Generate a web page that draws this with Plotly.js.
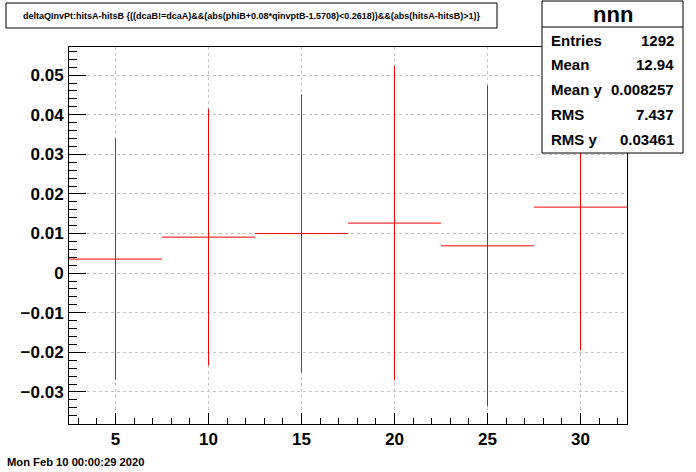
<!DOCTYPE html>
<html>
<head>
<meta charset="utf-8">
<script src="https://cdn.plot.ly/plotly-3.0.1.min.js"></script>
<style>
  html, body { margin: 0; padding: 0; background: #fff; }
  #chart { width: 696px; height: 472px; }
</style>
</head>
<body>
<div id="chart"></div>
<script>
// ---- data ----
const binCenters = [5, 10, 15, 20, 25, 30];
const binHalfWidths = [2.5, 2.5, 2.5, 2.5, 2.5, 2.5];
const meanValues = [0.00354, 0.00909, 0.0100, 0.01263, 0.00689, 0.01667];
const meanErrors = [0.0305, 0.0324, 0.0351, 0.0397, 0.0405, 0.0362];

const titleText = "deltaQInvPt:hitsA-hitsB {((dcaB!=dcaA)&&(abs(phiB+0.08*qinvptB-1.5708)<0.2618))&&(abs(hitsA-hitsB)>1)}";
const statsTitle = "nnn";
const statsLabels = ["Entries", "Mean", "Mean y", "RMS", "RMS y"];
const statsValues = ["1292", "12.94", "0.008257", "7.437", "0.03461"];
const dateText = "Mon Feb 10 00:00:29 2020";

// ---- layout helpers (pixel -> paper) ----
const W = 696, H = 472;
const L = 69, R = 627, T = 47, B = 424;
const px = x => (x - L) / (R - L);
const py = y => (B - y) / (B - T);

const FONT = "Liberation Sans, Arial, Helvetica, sans-serif";

const trace = {
  type: "scatter",
  mode: "markers",
  x: binCenters,
  y: meanValues,
  marker: { size: 0, color: "red", opacity: 0 },
  error_x: { type: "data", array: binHalfWidths, symmetric: true, color: "#ff0000", thickness: 1, width: 0 },
  error_y: { type: "data", array: meanErrors, symmetric: true, color: "#ff0000", thickness: 1, width: 0 },
  hoverinfo: "skip",
  showlegend: false
};

const shapes = [
  // title box
  { type: "rect", xref: "paper", yref: "paper", x0: px(6), x1: px(497), y0: py(28), y1: py(3),
    line: { color: "black", width: 1 }, fillcolor: "white", layer: "above" },
  // stats box
  { type: "rect", xref: "paper", yref: "paper", x0: px(542), x1: px(683), y0: py(153), y1: py(1),
    line: { color: "black", width: 1 }, fillcolor: "white", layer: "above" },
  { type: "line", xref: "paper", yref: "paper", x0: px(542), x1: px(683), y0: py(27), y1: py(27),
    line: { color: "black", width: 1 }, layer: "above" }
];

const annotations = [
  { text: titleText, xref: "paper", yref: "paper", x: px(252), y: py(16), xanchor: "center", yanchor: "middle",
    showarrow: false, font: { family: FONT, size: 9, color: "black", weight: "bold" } },
  { text: statsTitle, xref: "paper", yref: "paper", x: px(612.5), y: py(14.5), xanchor: "center", yanchor: "middle",
    showarrow: false, font: { family: FONT, size: 22, color: "black", weight: "bold" } },
  { text: dateText, xref: "paper", yref: "paper", x: px(5), y: py(462), xanchor: "left", yanchor: "middle",
    showarrow: false, font: { family: FONT, size: 11.2, color: "black", weight: "bold" } }
];
const rowY = [40.5, 65, 89.5, 114.5, 139];
statsLabels.forEach((lab, i) => {
  annotations.push({ text: lab, xref: "paper", yref: "paper", x: px(548.5), y: py(rowY[i]), xanchor: "left", yanchor: "middle",
    showarrow: false, font: { family: FONT, size: 15, color: "black", weight: "bold" } });
  annotations.push({ text: statsValues[i], xref: "paper", yref: "paper", x: px(676), y: py(rowY[i]), xanchor: "right", yanchor: "middle",
    showarrow: false, font: { family: FONT, size: 15, color: "black", weight: "bold" } });
});

const layout = {
  width: W, height: H,
  margin: { l: L, r: W - R, t: T, b: H - B, pad: 0 },
  paper_bgcolor: "white",
  plot_bgcolor: "white",
  showlegend: false,
  xaxis: {
    range: [2.5, 32.5],
    tickvals: binCenters,
    ticktext: binCenters.map(String),
    ticks: "inside", ticklen: 11, tickwidth: 1, tickcolor: "black",
    minor: { dtick: 1, tick0: 0, ticks: "inside", ticklen: 6, tickwidth: 1, tickcolor: "black", showgrid: false },
    showline: true, linecolor: "black", linewidth: 1, mirror: true,
    showgrid: true, gridcolor: "#c4c4c4", griddash: "dot", gridwidth: 1,
    zeroline: false,
    tickfont: { family: FONT, size: 17, color: "black", weight: "bold" },
    ticklabelstandoff: 0
  },
  yaxis: {
    range: [-0.0381, 0.0571],
    tickvals: [-0.03, -0.02, -0.01, 0, 0.01, 0.02, 0.03, 0.04, 0.05],
    ticktext: ["\u22120.03", "\u22120.02", "\u22120.01", "0", "0.01", "0.02", "0.03", "0.04", "0.05"],
    ticks: "inside", ticklen: 17, tickwidth: 1, tickcolor: "black",
    minor: { dtick: 0.002, tick0: 0, ticks: "inside", ticklen: 8, tickwidth: 1, tickcolor: "black", showgrid: false },
    showline: true, linecolor: "black", linewidth: 1, mirror: true,
    showgrid: true, gridcolor: "#c4c4c4", griddash: "dot", gridwidth: 1,
    zeroline: false,
    tickfont: { family: FONT, size: 17, color: "black", weight: "bold" },
    ticklabelstandoff: 1
  },
  shapes: shapes,
  annotations: annotations
};

Plotly.newPlot("chart", [trace], layout, { displayModeBar: false, staticPlot: true });
</script>
</body>
</html>
